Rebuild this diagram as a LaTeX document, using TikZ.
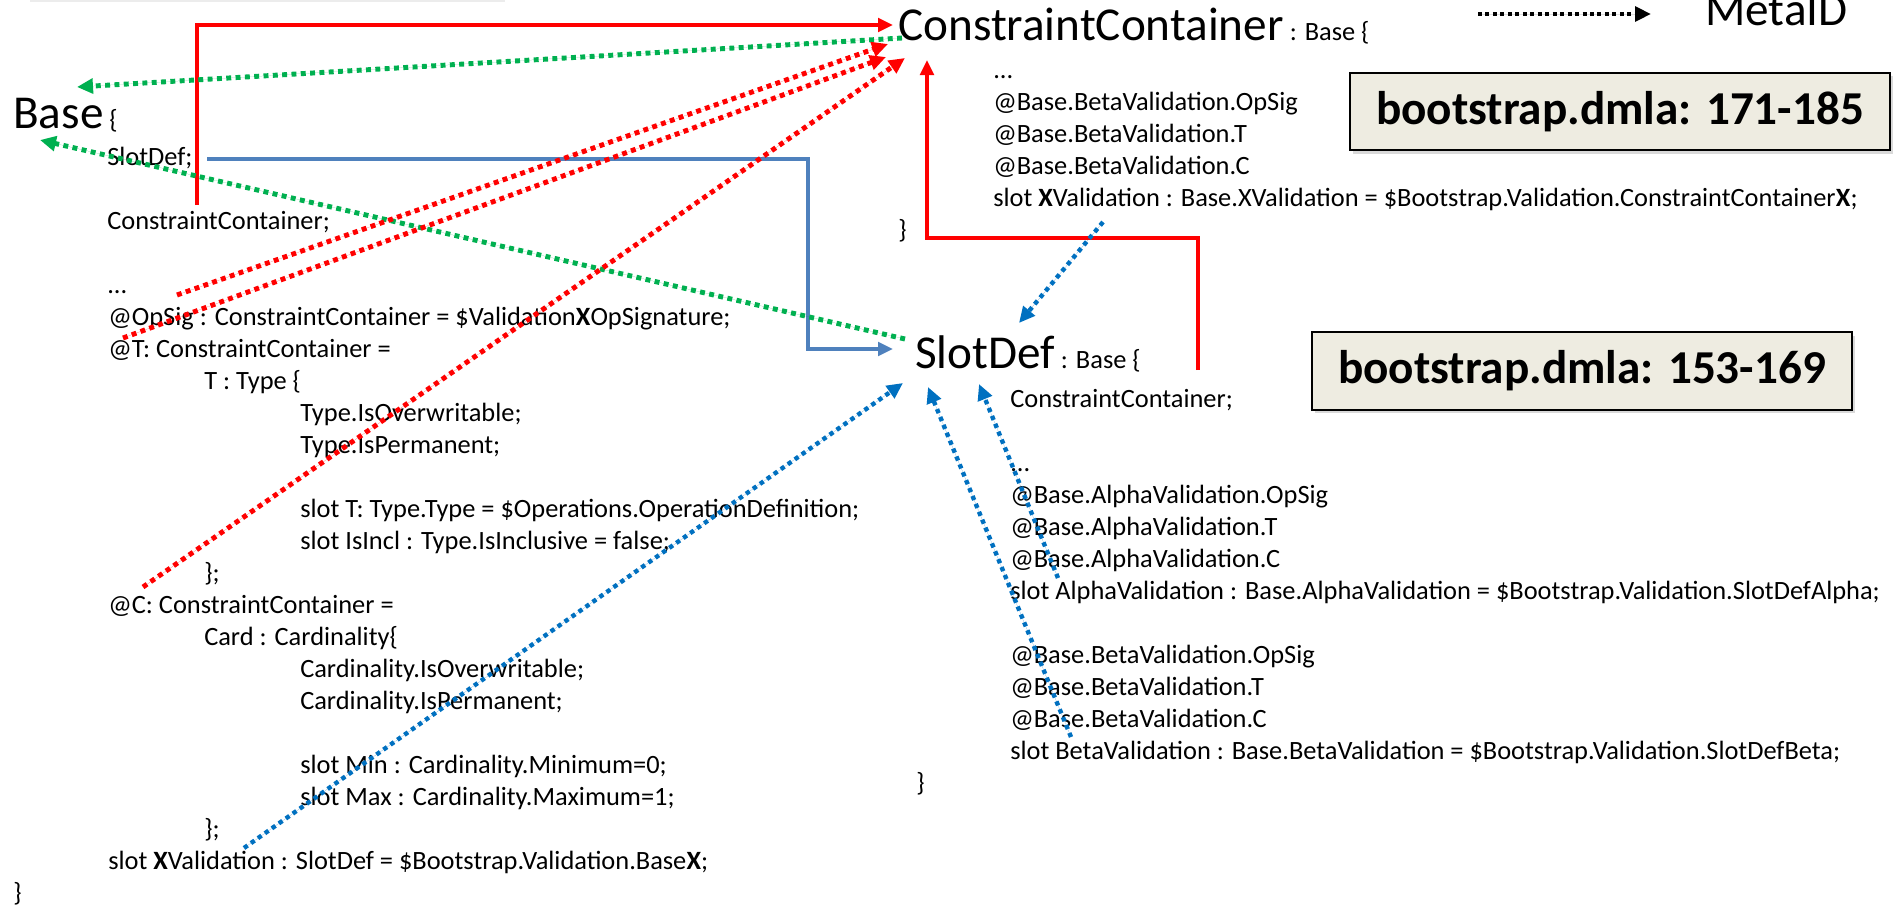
\documentclass[tikz,border=0pt]{standalone}
\usepackage{fontspec}
\setmainfont{Carlito}
\usetikzlibrary{arrows.meta,shadows}

\definecolor{refred}{HTML}{FF0000}
\definecolor{refgreen}{HTML}{00B050}
\definecolor{refblue}{HTML}{0070C0}
\definecolor{steelblue}{HTML}{4F81BD}
\definecolor{boxfill}{HTML}{EEECE1}

\newcommand{\bodyfnt}{\fontsize{19.8pt}{24pt}\selectfont}
\newcommand{\bigfnt}{\fontsize{35.4pt}{42pt}\selectfont}

\tikzset{
  txt/.style={anchor=base west, inner sep=0pt, font=\bodyfnt},
  bigtxt/.style={anchor=base west, inner sep=0pt, font=\bigfnt},
  dmlabox/.style={draw=black, line width=1.5pt, fill=boxfill, inner sep=0pt,
    minimum width=405pt, minimum height=58pt, font=\bigfnt\bfseries,
    drop shadow={shadow xshift=2pt, shadow yshift=-2.5pt, opacity=0.3}},
  tipsolid/.style={-{Triangle[length=11.25pt,width=10pt]}},
  redline/.style={draw=refred, line width=3pt, line join=miter, tipsolid},
  blueline/.style={draw=steelblue, line width=3pt, tipsolid},
  dotline/.style={line width=3.7pt, dash pattern=on 3.7pt off 3.3pt,
    -{Triangle[length=12pt,width=11pt]}},
  reddot/.style={dotline, draw=refred, fill=refred},
  greendot/.style={dotline, draw=refgreen, fill=refgreen},
  bluedot/.style={dotline, draw=refblue, fill=refblue, line width=3.3pt,
    dash pattern=on 3.3pt off 3.1pt},
  legenddot/.style={dotline, draw=black, fill=black, line width=3pt,
    dash pattern=on 3pt off 2.6pt}
}

\begin{document}
\begin{tikzpicture}[x=0.75pt,y=0.75pt,yscale=-1,xscale=1]
\useasboundingbox (0,0) rectangle (1893,908);
\clip (0,0) rectangle (1893,908);

%faint rule at the top edge
\draw [gray!15, line width=1.5pt] (30,1) -- (505,1);

% Base listing
\node [bigtxt] (baseHead) at (13,128) {Base\bodyfnt{} \{};
\node [txt] (bSlot) at (107,165) {SlotDef;};
\node [txt] (bCC) at (107,229) {ConstraintContainer;};
\node [txt] (bDots) at (107,293) {...};
\node [txt] (bOpSig) at (108,325) {@OpSig : ConstraintContainer = \$Validation\textbf{X}OpSignature;};
\node [txt] (bT) at (108,357) {@T: ConstraintContainer =};
\node [txt] (bType) at (204,389) {T : Type \{};
\node [txt] (bTypeOw) at (300,421) {Type.IsOverwritable;};
\node [txt] (bTypePm) at (300,453) {Type.IsPermanent;};
\node [txt] (bSlotT) at (300,517) {slot T: Type.Type = \$Operations.OperationDefinition;};
\node [txt] (bSlotIncl) at (300,549) {slot IsIncl : Type.IsInclusive = false;};
\node [txt] (bTypeEnd) at (204,581) {\};};
\node [txt] (bC) at (108,613) {@C: ConstraintContainer =};
\node [txt] (bCard) at (204,645) {Card : Cardinality\{};
\node [txt] (bCardOw) at (300,677) {Cardinality.IsOverwritable;};
\node [txt] (bCardPm) at (300,709) {Cardinality.IsPermanent;};
\node [txt] (bMin) at (300,773) {slot Min : Cardinality.Minimum=0;};
\node [txt] (bMax) at (300,805) {slot Max : Cardinality.Maximum=1;};
\node [txt] (bCardEnd) at (204,837) {\};};
\node [txt] (bXVal) at (108,869) {slot \textbf{X}Validation : SlotDef = \$Bootstrap.Validation.Base\textbf{X};};
\node [txt] (bEnd) at (13,901) {\}};

% ConstraintContainer listing
\node [bigtxt] (ccHead) at (898,40) {ConstraintContainer\bodyfnt{} : Base \{};
\node [txt] (ccDots) at (993,78) {...};
\node [txt] (ccOpSig) at (993,110) {@Base.BetaValidation.OpSig};
\node [txt] (ccT) at (993,142) {@Base.BetaValidation.T};
\node [txt] (ccC) at (993,174) {@Base.BetaValidation.C};
\node [txt] (ccXVal) at (993,206) {slot \textbf{X}Validation : Base.XValidation = \$Bootstrap.Validation.ConstraintContainer\textbf{X};};
\node [txt] (ccEnd) at (898,238) {\}};

% SlotDef listing
\node [bigtxt] (sdHead) at (915,368) {SlotDef\bodyfnt{} : Base \{};
\node [txt] (sdCC) at (1010,407) {ConstraintContainer;};
\node [txt] (sdDots) at (1010,471) {...};
\node [txt] (sdAOpSig) at (1010,503) {@Base.AlphaValidation.OpSig};
\node [txt] (sdAT) at (1010,535) {@Base.AlphaValidation.T};
\node [txt] (sdAC) at (1010,567) {@Base.AlphaValidation.C};
\node [txt] (sdASlot) at (1010,599) {slot AlphaValidation : Base.AlphaValidation = \$Bootstrap.Validation.SlotDefAlpha;};
\node [txt] (sdBOpSig) at (1010,663) {@Base.BetaValidation.OpSig};
\node [txt] (sdBT) at (1010,695) {@Base.BetaValidation.T};
\node [txt] (sdBC) at (1010,727) {@Base.BetaValidation.C};
\node [txt] (sdBSlot) at (1010,759) {slot BetaValidation : Base.BetaValidation = \$Bootstrap.Validation.SlotDefBeta;};
\node [txt] (sdEnd) at (916,791) {\}};

% file references
\node [dmlabox] (ccBox) at (1620,111.5) {bootstrap.dmla: 171-185};
\node [dmlabox] (sdBox) at (1582,371) {bootstrap.dmla: 153-169};

% legend
\coordinate (legFrom) at (1478,14);
\coordinate (legTo) at (1651,14);
\draw [legenddot] (legFrom) -- (legTo);
\node [bigtxt] (legText) at (1705,25) {MetaID};

% connector ends
\coordinate (bSlotOut) at (197,205);
\coordinate (bSlotUp) at (197,25);
\coordinate (ccLeft) at (893,25);
\coordinate (sdRedOut) at (1198,370);
\coordinate (sdRedUp) at (1198,238);
\coordinate (ccRedTurn) at (927,238);
\coordinate (ccBottom) at (927,60);
\coordinate (bSlotRight) at (207,159);
\coordinate (blueTurnA) at (808,159);
\coordinate (blueTurnB) at (808,349);
\coordinate (sdLeft) at (893,349);
\coordinate (ccGreenOut) at (902,38);
\coordinate (baseTop) at (77,87);
\coordinate (sdGreenOut) at (905,339);
\coordinate (baseLow) at (40,140);
\coordinate (bDotsOut) at (177,295);
\coordinate (ccTipA) at (888,44);
\coordinate (bOpSigOut) at (123,338);
\coordinate (ccTipB) at (886,57);
\coordinate (bTypeEndOut) at (143,587);
\coordinate (ccTipC) at (905,58);
\coordinate (ccXValOut) at (1103,222);
\coordinate (sdTop) at (1019,323);
\coordinate (bXValOut) at (244,848);
\coordinate (sdLowLeft) at (903,383);
\coordinate (sdBCOut) at (1071,737);
\coordinate (sdLowMid) at (928,387);
\coordinate (sdASlotOut) at (1058,578);
\coordinate (sdLowRight) at (979,384);

% solid connectors
\draw [redline] (bSlotOut) -- (bSlotUp) -- (ccLeft);
\draw [redline] (sdRedOut) -- (sdRedUp) -- (ccRedTurn) -- (ccBottom);
\draw [blueline] (bSlotRight) -- (blueTurnA) -- (blueTurnB) -- (sdLeft);

% MetaID connectors
\draw [greendot] (ccGreenOut) -- (baseTop);
\draw [greendot] (sdGreenOut) -- (baseLow);
\draw [reddot] (bDotsOut) -- (ccTipA);
\draw [reddot] (bOpSigOut) -- (ccTipB);
\draw [reddot] (bTypeEndOut) -- (ccTipC);
\draw [bluedot] (ccXValOut) -- (sdTop);
\draw [bluedot] (bXValOut) -- (sdLowLeft);
\draw [bluedot] (sdBCOut) -- (sdLowMid);
\draw [bluedot] (sdASlotOut) -- (sdLowRight);

\end{tikzpicture}
\end{document}
